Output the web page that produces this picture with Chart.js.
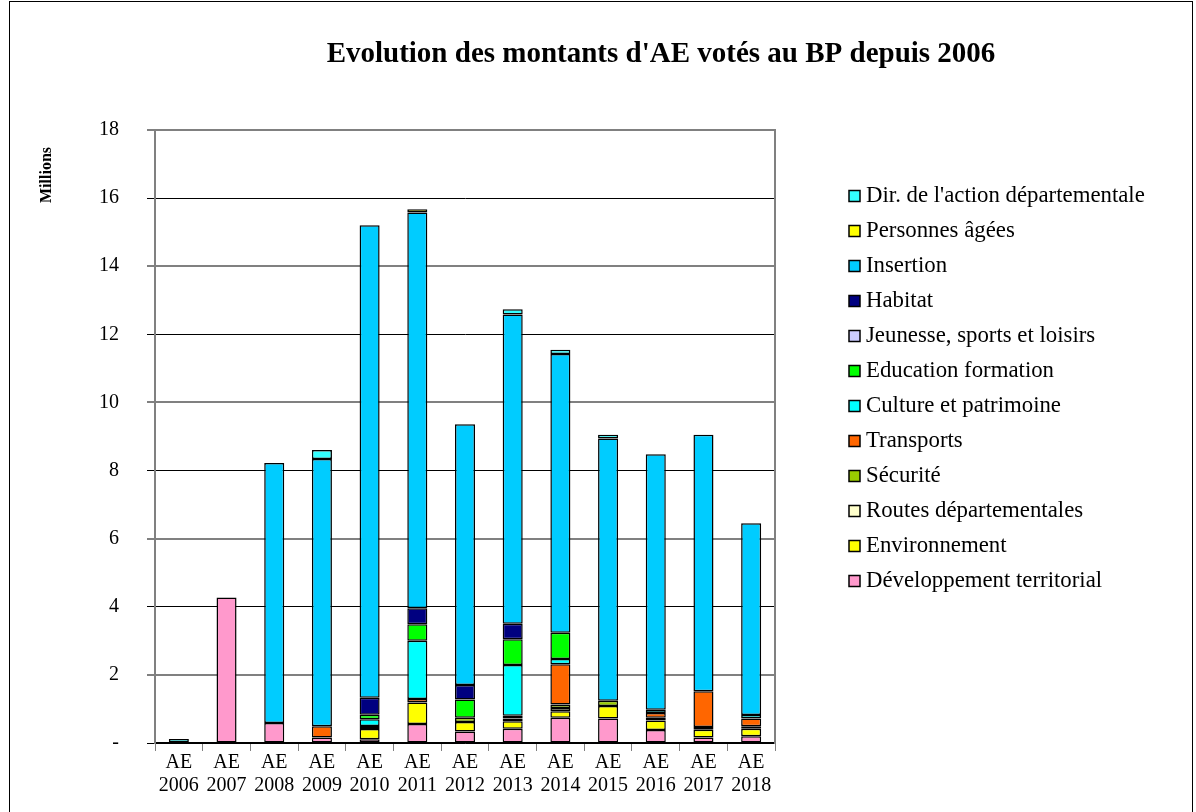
<!DOCTYPE html>
<html>
<head>
<meta charset="utf-8">
<script src="https://cdn.jsdelivr.net/npm/chart.js@4.4.0/dist/chart.umd.min.js"></script>
<style>
  body { margin: 0; background: #fff; }
  #cadre { position: absolute; left: 9px; top: 1px; width: 1182px; height: 820px; border: 1px solid #000; }
  #zone { position: absolute; left: 0; top: 0; width: 1196px; height: 812px; }
</style>
</head>
<body>
<div id="cadre"></div>
<div id="zone"><canvas id="graphique" width="1196" height="812"></canvas></div>
<script>
// Années (2 lignes par étiquette)
var annees = ['2006', '2007', '2008', '2009', '2010', '2011', '2012', '2013', '2014', '2015', '2016', '2017', '2018'];

// Montants en millions (de bas en haut de la pile)
var devTerritorial = [0, 4.27, 0.59, 0.16, 0.11, 0.56, 0.34, 0.42, 0.74, 0.72, 0.38, 0.16, 0.20];
var environnement  = [0, 0, 0, 0, 0.30, 0.63, 0.28, 0.22, 0.19, 0.37, 0.28, 0.23, 0.22];
var routes         = [0, 0, 0, 0, 0, 0, 0, 0, 0.10, 0, 0, 0, 0];
var securite       = [0, 0, 0, 0, 0, 0, 0.12, 0.08, 0.10, 0.15, 0.08, 0.08, 0.07];
var transports     = [0, 0, 0, 0.33, 0.09, 0.10, 0, 0.08, 1.18, 0, 0.14, 1.05, 0.23];
var culture        = [0, 0, 0, 0, 0.20, 1.71, 0, 1.49, 0.16, 0, 0.10, 0, 0.10];
var education      = [0, 0, 0, 0, 0.13, 0.49, 0.54, 0.76, 0.77, 0, 0, 0, 0];
var jeunesse       = [0, 0, 0, 0, 0, 0, 0, 0, 0, 0, 0, 0, 0];
var habitat        = [0, 0, 0, 0, 0.50, 0.47, 0.42, 0.45, 0, 0, 0, 0, 0];
var insertion      = [0, 0, 7.63, 7.85, 13.87, 11.62, 7.66, 9.08, 8.18, 7.70, 7.50, 7.53, 5.63];
var personnesAgees = [0, 0, 0, 0, 0, 0.09, 0, 0, 0, 0, 0, 0, 0];
var dirAction      = [0.12, 0, 0, 0.26, 0, 0, 0, 0.16, 0.13, 0.11, 0, 0, 0];

var yTicks = [0, 2, 4, 6, 8, 10, 12, 14, 16, 18];

var series = [
  ['Développement territorial', devTerritorial, '#ff99cc'],
  ['Environnement', environnement, '#ffff00'],
  ['Routes départementales', routes, '#ffffcc'],
  ['Sécurité', securite, '#99cc00'],
  ['Transports', transports, '#ff6600'],
  ['Culture et patrimoine', culture, '#00ffff'],
  ['Education formation', education, '#00ff00'],
  ['Jeunesse, sports et loisirs', jeunesse, '#ccccff'],
  ['Habitat', habitat, '#000080'],
  ['Insertion', insertion, '#00ccff'],
  ['Personnes âgées', personnesAgees, '#ffff00'],
  ["Dir. de l'action départementale", dirAction, '#33ffff']
];

var police = 'Liberation Serif';

// Titre, titre de l'axe et légende dessinés à la main (la légende de Chart.js est trop étroite ici)
var decorPlugin = {
  id: 'decor',
  afterDraw: function (chart) {
    var ctx = chart.ctx;
    ctx.save();
    ctx.fillStyle = '#000';
    ctx.textBaseline = 'middle';

    ctx.font = 'bold 29px "' + police + '"';
    ctx.textAlign = 'center';
    ctx.fillText("Evolution des montants d'AE votés au BP depuis 2006", 661, 55);

    ctx.save();
    ctx.translate(47, 175);
    ctx.rotate(-Math.PI / 2);
    ctx.font = 'bold 16px "' + police + '"';
    ctx.fillText('Millions', 0, 0);
    ctx.restore();

    // légende, dans l'ordre inverse des séries
    ctx.textAlign = 'left';
    ctx.font = '22.8px "' + police + '"';
    var ds = chart.data.datasets.slice().reverse();
    ds.forEach(function (d, i) {
      var y = 196 + i * 35;
      ctx.fillStyle = d.backgroundColor;
      ctx.fillRect(849, y - 5.5, 11, 11);
      ctx.strokeStyle = '#000';
      ctx.lineWidth = 1.5;
      ctx.strokeRect(849, y - 5.5, 11, 11);
      ctx.fillStyle = '#000';
      ctx.fillText(d.label, 866, y);
    });
    ctx.restore();
  }
};

new Chart(document.getElementById('graphique').getContext('2d'), {
  type: 'bar',
  data: {
    labels: annees.map(function (a) { return ['AE', a]; }),
    datasets: series.map(function (s) {
      return {
        label: s[0],
        data: s[1].map(function (v) { return v === 0 ? null : v; }),
        backgroundColor: s[2],
        borderColor: '#000',
        borderWidth: 1.5,
        borderSkipped: false,
        yAxisID: 'y'
      };
    })
  },
  options: {
    responsive: false,
    animation: false,
    layout: { padding: { top: 130, left: 71, right: 421, bottom: 15 } },
    datasets: { bar: { categoryPercentage: 1, barPercentage: 0.42 } },
    plugins: {
      tooltip: { enabled: false },
      legend: { display: false }
    },
    scales: {
      x: {
        stacked: true,
        grid: { drawOnChartArea: false, drawTicks: true, tickLength: 8, color: '#808080' },
        border: { color: '#000', width: 1.5 },
        ticks: {
          color: '#000',
          padding: 0,
          maxRotation: 0,
          autoSkip: false,
          font: { family: police, size: 20, lineHeight: 1.15 }
        }
      },
      y: {
        stacked: true,
        min: 0,
        max: 18,
        afterBuildTicks: function (scale) {
          scale.ticks = yTicks.map(function (v) { return { value: v }; });
        },
        grid: {
          tickLength: 8,
          color: function (c) { return (c.tick && (c.tick.value / 2) % 2 === 1) ? '#808080' : '#000'; },
          lineWidth: function (c) { return (c.tick && (c.tick.value / 2) % 2 === 1) ? 2 : 1; }
        },
        border: { color: '#808080', width: 2 },
        ticks: {
          color: '#000',
          padding: 28,
          font: { family: police, size: 20 },
          callback: function (v) { return v === 0 ? '-' : v; }
        }
      },
      marge: {
        axis: 'y',
        position: 'right',
        grid: { display: false, drawTicks: false },
        ticks: { display: false },
        border: { display: true, color: '#808080', width: 2 },
        afterFit: function (scale) { scale.width = 0; }
      }
    }
  },
  plugins: [decorPlugin]
});
</script>
</body>
</html>
